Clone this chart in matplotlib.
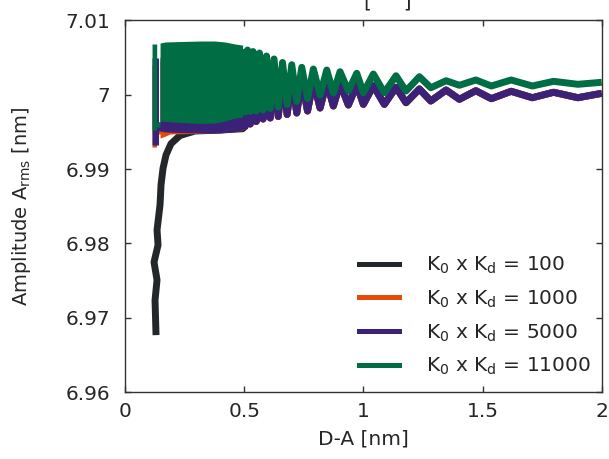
import matplotlib
matplotlib.use('Agg')
import matplotlib.pyplot as plt
from matplotlib.lines import Line2D

plt.rcParams['font.family'] = ['DejaVu Sans']
plt.rcParams['mathtext.fontset'] = 'dejavusans'

# =================================================================
# DATA
# =================================================================
labels = [r'K$_\mathrm{0}$ x K$_\mathrm{d}$ = 100',
          r'K$_\mathrm{0}$ x K$_\mathrm{d}$ = 1000',
          r'K$_\mathrm{0}$ x K$_\mathrm{d}$ = 5000',
          r'K$_\mathrm{0}$ x K$_\mathrm{d}$ = 11000']
colors = ['#23272a', '#e64a07', '#3b2177', '#006d44']

xticks = [0, 0.5, 1, 1.5, 2]
xtick_labels = ['0', '0.5', '1', '1.5', '2']
yticks = [6.96, 6.97, 6.98, 6.99, 7.00, 7.01]
ytick_labels = ['6.96', '6.97', '6.98', '6.99', '7', '7.01']

# start of the run: oscillation too fast to resolve -> solid band (edges)
green_band_x = [0.1133, 0.1329, 0.1329, 0.1469, 0.1469, 0.1679, 0.2308, 0.3147, 0.3777, 0.4196, 0.4616, 0.4931]
green_band_top = [7.00678, 7.00678, 6.99631, 6.99631, 7.00691, 7.00705, 7.00711, 7.00718, 7.00718, 7.00705, 7.00678, 7.00664]
green_band_bot = [6.99523, 6.99523, 6.99563, 6.99563, 6.99644, 6.99638, 6.99624, 6.99611, 6.99617, 6.99644, 6.99685, 6.99698]

purple_band_x = [0.1133, 0.1406, 0.1406, 0.1469, 0.1469, 0.1679, 0.2308, 0.3147, 0.3987, 0.4616, 0.4931]
purple_band_top = [7.00490, 7.00490, 6.99631, 6.99631, 7.0050, 7.0050, 7.0050, 7.0050, 7.0050, 7.0050, 7.0050]
purple_band_bot = [6.99322, 6.99322, 6.99510, 6.99510, 6.99510, 6.99497, 6.99490, 6.99483, 6.99483, 6.99503, 6.99523]

orange_band_x = [0.1133, 0.1322, 0.1322, 0.1469, 0.1469, 0.1679, 0.1888, 0.3147, 0.4931]
orange_band_top = [7.0040, 7.0040, 6.9960, 6.9960, 7.0045, 7.0045, 7.0045, 7.0045, 7.0045]
orange_band_bot = [6.99295, 6.99295, 6.99470, 6.99470, 6.99416, 6.99440, 6.99470, 6.99478, 6.99515]

# K0 x Kd = 100 : the steep rise at small D-A
black_x = [0.1301, 0.1259, 0.1343, 0.1217, 0.1385, 0.1343, 0.1469, 0.1511, 0.1595, 0.1721, 0.1930, 0.2308, 0.2937, 0.3777, 0.4931]
black_y = [6.9677, 6.9724, 6.9751, 6.9775, 6.9798, 6.9818, 6.9852, 6.9879, 6.9901, 6.9919, 6.9934, 6.9945, 6.9951, 6.9952, 6.9954]

# resolved oscillation: peaks / troughs
wave_x = [0.4931, 0.5036, 0.5141, 0.5254, 0.5371, 0.5506, 0.5644, 0.5791, 0.5938, 0.6093,
          0.6253, 0.6429, 0.6609, 0.6802, 0.6995, 0.7205, 0.7415, 0.7658, 0.7902, 0.8183,
          0.8464, 0.8741, 0.9022, 0.9371, 0.9723, 1.0, 1.042, 1.088, 1.137, 1.179,
          1.235, 1.283, 1.347, 1.403, 1.472, 1.537, 1.620, 1.709, 1.798, 1.90, 2.0]
green_wave = [7.00611, 6.99765, 7.00597, 6.99772, 7.00577, 6.99779, 7.00557, 6.99792, 7.00517, 6.99812,
              7.00477, 6.99832, 7.00430, 6.99866, 7.00400, 6.99906, 7.00365, 6.99946, 7.00342, 6.99993,
              7.00329, 7.00020, 7.00306, 7.00047, 7.00285, 7.00024, 7.00275, 7.00024, 7.00252, 7.00047,
              7.00239, 7.00091, 7.00185, 7.00124, 7.00195, 7.00114, 7.00195, 7.00114, 7.00177, 7.00137, 7.00164]
purple_wave = [7.00450, 6.99570, 7.00436, 6.99604, 7.00416, 6.99638, 7.00396, 6.99671, 7.00356, 6.99685,
               7.00315, 6.99705, 7.00268, 6.99732, 7.00239, 6.99752, 7.00204, 6.99779, 7.00181, 6.99819,
               7.00168, 6.99846, 7.00145, 6.99859, 7.00128, 6.99868, 7.00118, 6.99868, 7.00097, 6.99890,
               7.00074, 6.99913, 7.00060, 6.99936, 7.00051, 6.99944, 7.00043, 6.99957, 7.00030, 6.99957, 7.00016]
# 100 and 1000 sit under the 5000 curve on the right side
orange_wave = purple_wave
black_wave = purple_wave

# =================================================================
# PLOT
# =================================================================
fig = plt.figure(figsize=(6.09, 4.59), dpi=100)
ax = fig.add_axes([0.2053, 0.1449, 0.7827, 0.8115])

lw = 5.0
kw = dict(solid_joinstyle='round', solid_capstyle='butt')
txt = '#262626'
fs = 14.5

# black (bottom layer)
ax.plot(black_x + wave_x[1:], black_y + black_wave[1:], color=colors[0], lw=lw, zorder=2, **kw)
# orange
ax.fill_between(orange_band_x, orange_band_bot, orange_band_top, color=colors[1], lw=0, zorder=3)
ax.plot(wave_x, orange_wave, color=colors[1], lw=lw, zorder=3, **kw)
# purple
ax.fill_between(purple_band_x, purple_band_bot, purple_band_top, color=colors[2], lw=0, zorder=4)
ax.plot(wave_x, purple_wave, color=colors[2], lw=lw, zorder=4, **kw)
# green (top layer)
ax.fill_between(green_band_x, green_band_bot, green_band_top, color=colors[3], lw=0, zorder=5)
ax.plot(wave_x, green_wave, color=colors[3], lw=lw, zorder=5, **kw)

ax.set_xlim(0, 2)
ax.set_ylim(6.96, 7.01)
ax.set_xticks(xticks)
ax.set_xticklabels(xtick_labels)
ax.set_yticks(yticks)
ax.set_yticklabels(ytick_labels)

ax.tick_params(direction='in', top=True, right=True, length=4, width=1,
               colors='#333333', labelcolor=txt, labelsize=fs)
ax.tick_params(axis='y', pad=10.5)
ax.tick_params(axis='x', pad=7)
for s in ax.spines.values():
    s.set_color('#333333')
    s.set_linewidth(1.0)
    s.set_zorder(6)

ax.set_xlabel('D-A [nm]', fontsize=fs, color=txt, labelpad=6)
ax.set_ylabel(r'Amplitude A$_\mathrm{rms}$ [nm]', fontsize=14, color=txt)
ax.yaxis.set_label_coords(-0.193, 0.5)

# top title is cut off by the figure edge, only the bracket feet show
fig.text(387.5 / 609, 1 - 8 / 459, '[     ]', ha='center', va='baseline',
         fontsize=fs, color=txt)

handles = [Line2D([], [], color=c, lw=3.6) for c in colors]
ax.legend(handles, labels, loc='upper left', bbox_to_anchor=(0.49, 0.37),
          frameon=False, fontsize=fs, handlelength=2.0, handletextpad=1.35,
          labelspacing=0.62, borderaxespad=0, borderpad=0, labelcolor=txt)

fig.savefig('out.png', dpi=100)
